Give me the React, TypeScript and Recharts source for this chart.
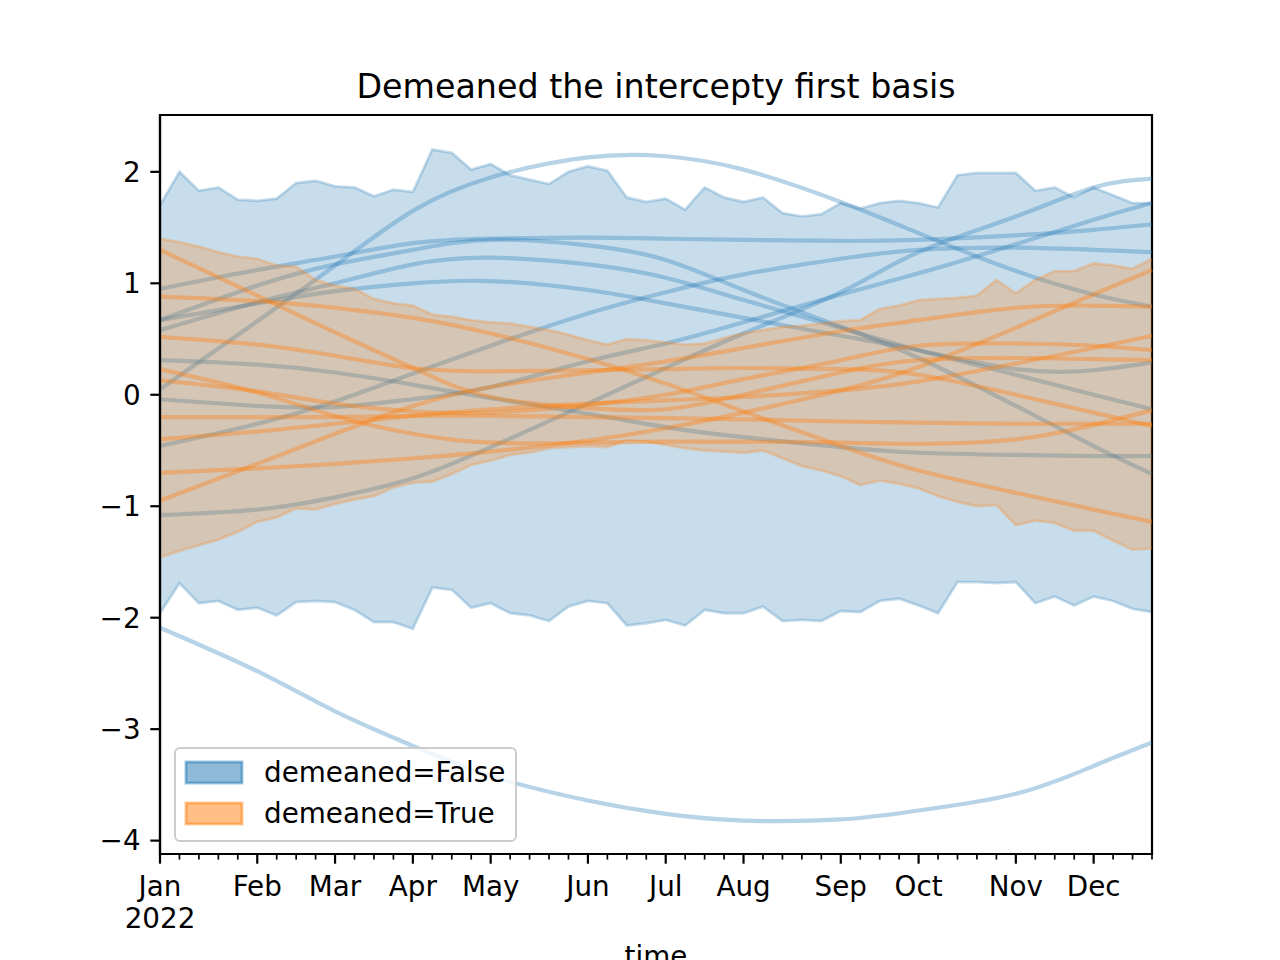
import React from "react";
import { ComposedChart, Area, Line, XAxis, YAxis, ReferenceArea } from "recharts";

const FONT = "'DejaVu Sans', sans-serif";
const BLUE = "#1f77b4";
const ORANGE = "#ff7f0e";

// weekly periods of 2022
const weeks = [
  0, 1, 2, 3, 4, 5, 6, 7, 8, 9, 10, 11, 12, 13, 14, 15, 16, 17, 18, 19, 20, 21, 22, 23, 24, 25,
  26, 27, 28, 29, 30, 31, 32, 33, 34, 35, 36, 37, 38, 39, 40, 41, 42, 43, 44, 45, 46, 47, 48, 49, 50, 51,
];
const monthTicks = [0, 5, 9, 13, 17, 22, 26, 30, 35, 39, 44, 48];
const monthNames = ["Jan", "Feb", "Mar", "Apr", "May", "Jun", "Jul", "Aug", "Sep", "Oct", "Nov", "Dec"];
const yTicks = [-4, -3, -2, -1, 0, 1, 2];

// HDI bands
const blueUpper = [
  1.70, 2.00, 1.83, 1.86, 1.75, 1.74, 1.76, 1.90, 1.92, 1.87, 1.86, 1.78, 1.84, 1.82, 2.20, 2.17, 2.02, 2.07,
  1.97, 1.93, 1.89, 2.00, 2.05, 2.01, 1.77, 1.73, 1.76, 1.66, 1.86, 1.77, 1.73, 1.77, 1.63, 1.60, 1.62, 1.72,
  1.67, 1.72, 1.74, 1.72, 1.68, 1.97, 1.99, 1.99, 1.99, 1.83, 1.86, 1.77, 1.86, 1.79, 1.72, 1.72,
];
const blueLower = [
  -1.96, -1.69, -1.87, -1.85, -1.93, -1.91, -1.98, -1.86, -1.85, -1.86, -1.93, -2.04, -2.04, -2.10, -1.73,
  -1.75, -1.91, -1.87, -1.96, -1.98, -2.03, -1.90, -1.85, -1.87, -2.07, -2.05, -2.02, -2.07, -1.93, -1.96,
  -1.96, -1.90, -2.03, -2.02, -2.03, -1.94, -1.95, -1.85, -1.83, -1.89, -1.96, -1.68, -1.68, -1.69, -1.68,
  -1.87, -1.81, -1.89, -1.81, -1.85, -1.92, -1.95,
];
const orangeUpper = [
  1.40, 1.37, 1.33, 1.28, 1.24, 1.22, 1.16, 1.15, 1.03, 0.98, 0.95, 0.86, 0.82, 0.80, 0.72, 0.70, 0.67, 0.65,
  0.64, 0.61, 0.58, 0.54, 0.49, 0.45, 0.50, 0.49, 0.47, 0.45, 0.46, 0.51, 0.55, 0.58, 0.61, 0.62, 0.64, 0.66,
  0.67, 0.77, 0.80, 0.85, 0.86, 0.87, 0.89, 1.03, 0.91, 1.03, 1.11, 1.11, 1.18, 1.16, 1.13, 1.22,
];
const orangeLower = [
  -1.46, -1.40, -1.35, -1.30, -1.23, -1.14, -1.10, -1.02, -1.03, -0.98, -0.94, -0.91, -0.83, -0.79, -0.78,
  -0.71, -0.63, -0.59, -0.54, -0.52, -0.48, -0.47, -0.46, -0.47, -0.41, -0.42, -0.45, -0.48, -0.50, -0.51,
  -0.52, -0.50, -0.57, -0.64, -0.68, -0.73, -0.81, -0.77, -0.80, -0.84, -0.91, -0.96, -1.00, -0.99, -1.17,
  -1.13, -1.15, -1.22, -1.22, -1.31, -1.39, -1.38,
];

// sample curves, read at the month ticks and the last week
const sampleWeeks = [0, 5, 9, 13, 17, 22, 26, 30, 35, 39, 44, 48, 51];

const blueA = [-2.09, -2.48, -2.84, -3.15, -3.42, -3.64, -3.76, -3.82, -3.81, -3.73, -3.58, -3.33, -3.12];
const blueB = [0.05, 0.66, 1.16, 1.65, 1.95, 2.13, 2.14, 2.02, 1.73, 1.45, 1.11, 0.90, 0.79];
const blueC = [0.95, 1.12, 1.24, 1.36, 1.40, 1.41, 1.40, 1.39, 1.38, 1.39, 1.43, 1.48, 1.53];
const blueD = [0.67, 0.98, 1.17, 1.30, 1.39, 1.34, 1.21, 0.94, 0.61, 0.33, -0.10, -0.46, -0.71];
const blueE = [0.58, 0.83, 1.00, 1.17, 1.23, 1.17, 1.05, 0.85, 0.60, 0.40, 0.18, 0.00, -0.13];
const blueF = [0.67, 0.82, 0.93, 1.00, 1.02, 0.94, 0.82, 0.69, 0.53, 0.40, 0.23, 0.22, 0.29];
const blueG = [0.31, 0.27, 0.20, 0.09, -0.03, -0.17, -0.29, -0.38, -0.47, -0.52, -0.54, -0.55, -0.55];
const blueH = [-0.46, -0.26, -0.06, 0.19, 0.44, 0.73, 0.92, 1.08, 1.22, 1.30, 1.32, 1.30, 1.28];
const blueI = [-0.04, -0.10, -0.11, -0.04, 0.07, 0.30, 0.46, 0.65, 0.90, 1.09, 1.35, 1.57, 1.72];
const blueJ = [-1.08, -1.03, -0.92, -0.75, -0.47, -0.08, 0.24, 0.55, 0.92, 1.28, 1.60, 1.86, 1.94];

const orangeA = [1.30, 0.89, 0.56, 0.24, -0.02, -0.12, -0.13, 0.00, 0.20, 0.31, 0.33, 0.32, 0.31];
const orangeB = [0.88, 0.84, 0.78, 0.69, 0.55, 0.32, 0.10, -0.15, -0.46, -0.68, -0.88, -1.03, -1.14];
const orangeC = [0.52, 0.45, 0.35, 0.24, 0.21, 0.22, 0.23, 0.24, 0.23, 0.18, 0.00, -0.16, -0.28];
const orangeD = [0.23, 0.02, -0.19, -0.35, -0.43, -0.43, -0.42, -0.42, -0.43, -0.44, -0.40, -0.27, -0.14];
const orangeE = [0.13, 0.03, -0.08, -0.15, -0.16, -0.09, 0.00, 0.14, 0.31, 0.44, 0.46, 0.44, 0.40];
const orangeF = [-0.20, -0.20, -0.20, -0.19, -0.19, -0.20, -0.21, -0.22, -0.24, -0.25, -0.26, -0.26, -0.26];
const orangeG = [-0.40, -0.33, -0.26, -0.19, -0.13, -0.08, -0.05, -0.02, 0.04, 0.12, 0.28, 0.42, 0.53];
const orangeH = [-0.70, -0.66, -0.62, -0.57, -0.51, -0.41, -0.30, -0.16, 0.04, 0.25, 0.60, 0.90, 1.12];
const orangeI = [-0.95, -0.62, -0.35, -0.10, 0.07, 0.20, 0.30, 0.42, 0.57, 0.67, 0.78, 0.80, 0.79];

const blueSeries = [blueA, blueB, blueC, blueD, blueE, blueF, blueG, blueH, blueI, blueJ];
const orangeSeries = [orangeA, orangeB, orangeC, orangeD, orangeE, orangeF, orangeG, orangeH, orangeI];

const rows = weeks.map((w, i) => {
  const row: Record<string, any> = {
    week: w,
    blueBand: [blueLower[i], blueUpper[i]],
    orangeBand: [orangeLower[i], orangeUpper[i]],
  };
  const k = sampleWeeks.indexOf(w);
  blueSeries.forEach((s, j) => {
    row[`b${j}`] = k >= 0 ? s[k] : null;
  });
  orangeSeries.forEach((s, j) => {
    row[`o${j}`] = k >= 0 ? s[k] : null;
  });
  return row;
});

const XTick = (props: any) => {
  const { x, y, payload } = props;
  const m = monthTicks.indexOf(payload.value);
  const major = m >= 0;
  return (
    <g>
      <line x1={x} x2={x} y1={y} y2={y + (major ? 9.7 : 5.6)} stroke="#000" strokeWidth={major ? 2.2 : 1.7} />
      {major && (
        <text x={x} y={y + 42} textAnchor="middle" fontFamily={FONT} fontSize={27.8} fill="#000">
          {monthNames[m]}
        </text>
      )}
      {payload.value === 0 && (
        <text x={x} y={y + 74} textAnchor="middle" fontFamily={FONT} fontSize={27.8} fill="#000">
          2022
        </text>
      )}
    </g>
  );
};

const App = () => {
  return (
    <div style={{ position: "absolute", left: 0, top: 0, width: 1280, height: 960, background: "#fff" }}>
      <ComposedChart width={1280} height={960} data={rows} margin={{ top: 115, right: 128, bottom: 46, left: 60 }}>
        <XAxis
          dataKey="week"
          type="number"
          domain={[0, 51]}
          ticks={weeks}
          interval={0}
          height={60}
          tickSize={0}
          tickMargin={0}
          tickLine={false}
          axisLine={{ stroke: "#000", strokeWidth: 2.2 }}
          tick={<XTick />}
        />
        <YAxis
          type="number"
          domain={[-4.12, 2.51]}
          ticks={yTicks}
          allowDataOverflow
          width={100}
          tickSize={9.7}
          tickMargin={9.7}
          tickLine={{ stroke: "#000", strokeWidth: 2.2 }}
          axisLine={{ stroke: "#000", strokeWidth: 2.2 }}
          tick={{ fill: "#000", fontSize: 27.8, fontFamily: FONT }}
          tickFormatter={(v: number) => (v < 0 ? `\u2212${Math.abs(v)}` : `${v}`)}
        />
        <Area
          dataKey="blueBand"
          type="linear"
          fill={BLUE}
          fillOpacity={0.25}
          stroke={BLUE}
          strokeOpacity={0.25}
          strokeWidth={2.8}
          isAnimationActive={false}
          zIndex={100}
        />
        {blueSeries.map((_, j) => (
          <Line
            key={`b${j}`}
            dataKey={`b${j}`}
            type="natural"
            connectNulls
            stroke={BLUE}
            strokeOpacity={0.32}
            strokeWidth={4.2}
            dot={false}
            activeDot={false}
            isAnimationActive={false}
            zIndex={101}
          />
        ))}
        <Area
          dataKey="orangeBand"
          type="linear"
          fill={ORANGE}
          fillOpacity={0.25}
          stroke={ORANGE}
          strokeOpacity={0.25}
          strokeWidth={2.8}
          isAnimationActive={false}
          zIndex={102}
        />
        {orangeSeries.map((_, j) => (
          <Line
            key={`o${j}`}
            dataKey={`o${j}`}
            type="natural"
            connectNulls
            stroke={ORANGE}
            strokeOpacity={0.38}
            strokeWidth={4.2}
            dot={false}
            activeDot={false}
            isAnimationActive={false}
            zIndex={103}
          />
        ))}
        <ReferenceArea x1={0} x2={51} y1={-4.12} y2={2.51} fill="none" stroke="#000" strokeWidth={2.2} ifOverflow="visible" />
      </ComposedChart>
      <svg
        width={1280}
        height={960}
        style={{ position: "absolute", left: 0, top: 0, pointerEvents: "none" }}
        fontFamily={FONT}
      >
        <text x={656} y={98} textAnchor="middle" fontSize={33.3} fill="#000">
          Demeaned the intercepty first basis
        </text>
        <text x={656} y={966} textAnchor="middle" fontSize={27.8} fill="#000">
          time
        </text>
        <rect x={175} y={748} width={341} height={93} rx={5} fill="#fff" fillOpacity={0.8} stroke="#cccccc" strokeWidth={2} />
        <rect x={186} y={762} width={56} height={21} fill={BLUE} fillOpacity={0.5} stroke={BLUE} strokeOpacity={0.5} strokeWidth={2.8} />
        <text x={264} y={782} fontSize={27.8} fill="#000">
          demeaned=False
        </text>
        <rect x={186} y={803} width={56} height={21} fill={ORANGE} fillOpacity={0.5} stroke={ORANGE} strokeOpacity={0.5} strokeWidth={2.8} />
        <text x={264} y={823} fontSize={27.8} fill="#000">
          demeaned=True
        </text>
      </svg>
    </div>
  );
};

export default App;
